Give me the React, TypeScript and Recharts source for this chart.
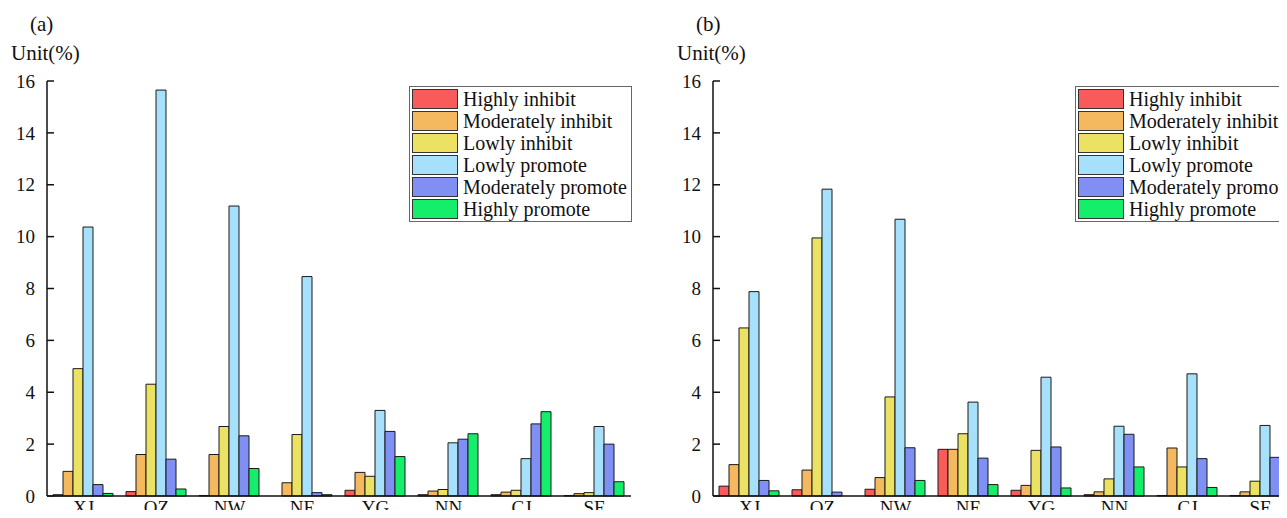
import React from 'react';
import { BarChart, Bar, XAxis, YAxis } from 'recharts';

const regions = ['XJ', 'OZ', 'NW', 'NE', 'YG', 'NN', 'CJ', 'SE'];
const seriesNames = [
  'Highly inhibit',
  'Moderately inhibit',
  'Lowly inhibit',
  'Lowly promote',
  'Moderately promote',
  'Highly promote',
];
const yTicks = [0, 2, 4, 6, 8, 10, 12, 14, 16];

// panel (a)
const aHighInhibit = [0.05, 0.17, 0.02, 0.0, 0.22, 0.05, 0.05, 0.02];
const aModInhibit = [0.95, 1.6, 1.6, 0.51, 0.91, 0.19, 0.15, 0.09];
const aLowInhibit = [4.91, 4.31, 2.68, 2.37, 0.76, 0.25, 0.22, 0.13];
const aLowPromote = [10.37, 15.65, 11.18, 8.46, 3.3, 2.05, 1.44, 2.68];
const aModPromote = [0.44, 1.42, 2.32, 0.13, 2.49, 2.19, 2.78, 2.0];
const aHighPromote = [0.1, 0.27, 1.06, 0.05, 1.52, 2.4, 3.25, 0.55];

// panel (b)
const bHighInhibit = [0.38, 0.24, 0.26, 1.8, 0.22, 0.05, 0.02, 0.02];
const bModInhibit = [1.21, 1.0, 0.71, 1.8, 0.41, 0.16, 1.85, 0.16];
const bLowInhibit = [6.48, 9.95, 3.82, 2.4, 1.76, 0.66, 1.12, 0.57];
const bLowPromote = [7.88, 11.83, 10.67, 3.62, 4.58, 2.69, 4.71, 2.72];
const bModPromote = [0.6, 0.15, 1.86, 1.46, 1.89, 2.38, 1.44, 1.49];
const bHighPromote = [0.2, 0.0, 0.6, 0.44, 0.31, 1.12, 0.33, 0.44];

const COLORS = ['#f95a5a', '#f4b95f', '#ebe264', '#a6e0fa', '#7f8ff4', '#14ee6b'];
const KEYS = ['hi', 'mi', 'li', 'lp', 'mp', 'hp'];
const FONT = '"Liberation Serif", "Times New Roman", serif';

const buildRows = (cols: number[][]) =>
  regions.map((r, i) => {
    const row: any = { region: r };
    KEYS.forEach((k, j) => {
      row[k] = cols[j][i];
    });
    return row;
  });

const dataA = buildRows([aHighInhibit, aModInhibit, aLowInhibit, aLowPromote, aModPromote, aHighPromote]);
const dataB = buildRows([bHighInhibit, bModInhibit, bLowInhibit, bLowPromote, bModPromote, bHighPromote]);

// legend drawn as a plain box so it does not take space from the plot
const LegendBox = () => (
  <div
    style={{
      position: 'absolute',
      left: 409,
      top: 86,
      border: '1px solid #666',
      background: '#fff',
      width: 219,
      height: 132,
      padding: '1px 0 1px 2px',
      fontFamily: FONT,
      fontSize: 20,
      color: '#111',
    }}
  >
    {seriesNames.map((n, i) => (
      <div key={n} style={{ display: 'flex', alignItems: 'center', height: 22 }}>
        <div
          style={{
            width: 44,
            height: 18,
            background: COLORS[i],
            border: '1px solid #333',
            marginRight: 5,
            flexShrink: 0,
          }}
        />
        <span style={{ whiteSpace: 'nowrap', lineHeight: '20px' }}>{n}</span>
      </div>
    ))}
  </div>
);

function Panel({ data, left, tag }: { data: any[]; left: number; tag: string }) {
  return (
    <div style={{ position: 'absolute', left, top: 0, width: 640, height: 540 }}>
      <div style={{ position: 'absolute', left: 30, top: 12, fontFamily: FONT, fontSize: 21, color: '#111' }}>
        {tag}
      </div>
      <div style={{ position: 'absolute', left: 11, top: 41, fontFamily: FONT, fontSize: 21, color: '#111' }}>
        Unit(%)
      </div>
      <BarChart
        width={640}
        height={540}
        data={data}
        margin={{ top: 81, right: 9, left: 7, bottom: 14 }}
        barCategoryGap={6}
        barGap={0}
      >
        <XAxis
          dataKey="region"
          height={30}
          tickLine={false}
          tickSize={0}
          tickMargin={5}
          axisLine={{ stroke: '#111', strokeWidth: 1.5 }}
          tick={{ fill: '#111', fontSize: 19, fontFamily: FONT }}
          interval={0}
        />
        <YAxis
          width={40}
          domain={[0, 16]}
          ticks={yTicks}
          interval={0}
          tickSize={-7}
          tickMargin={19}
          axisLine={{ stroke: '#111', strokeWidth: 1.5 }}
          tickLine={{ stroke: '#111', strokeWidth: 1.5 }}
          tick={{ fill: '#111', fontSize: 19, fontFamily: FONT }}
        />
        {KEYS.map((k, i) => (
          <Bar
            key={k}
            dataKey={k}
            name={seriesNames[i]}
            fill={COLORS[i]}
            stroke="#1a1a1a"
            strokeWidth={1}
            isAnimationActive={false}
          />
        ))}
      </BarChart>
      <LegendBox />
    </div>
  );
}

export default function App() {
  return (
    <div
      style={{
        position: 'relative',
        margin: -8,
        width: 1287,
        height: 518,
        overflow: 'hidden',
        background: '#fff',
      }}
    >
      <Panel data={dataA} left={0} tag="(a)" />
      <Panel data={dataB} left={666} tag="(b)" />
    </div>
  );
}
